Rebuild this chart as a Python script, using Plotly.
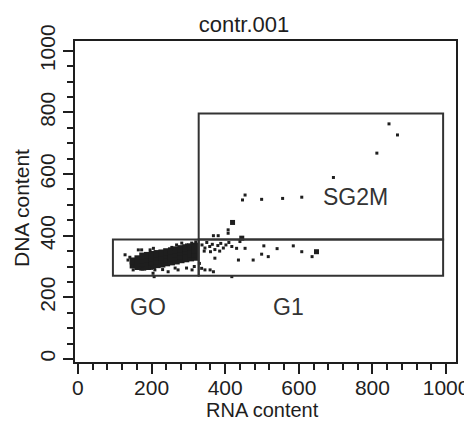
import plotly.graph_objects as go

# ---- data ----
title_text = "contr.001"
x_title = "RNA content"
y_title = "DNA content"
tick_vals = [0, 200, 400, 600, 800, 1000]
tick_text = ["0", "200", "400", "600", "800", "1000"]

# dense G0 core (events)
core_x = [150, 150,
          163, 163, 163,
          176, 176, 176, 176,
          189, 189, 189, 189,
          202, 202, 202, 202,
          215, 215, 215, 215,
          228, 228, 228, 228,
          241, 241, 241, 241,
          254, 254, 254, 254,
          267, 267, 267, 267,
          280, 280, 280, 280,
          293, 293, 293, 293,
          306, 306, 306, 306,
          318, 318, 318, 318]
core_y = [305, 318,
          300, 312, 325,
          298, 310, 322, 334,
          300, 312, 324, 336,
          303, 315, 327, 339,
          306, 318, 330, 342,
          308, 320, 332, 344,
          312, 324, 336, 348,
          315, 327, 339, 351,
          318, 330, 342, 354,
          322, 334, 346, 358,
          325, 337, 349, 361,
          328, 340, 352, 364,
          330, 342, 354, 366]

# sparse events
ev_x = [128, 136, 146, 150, 141, 164, 173, 196, 205, 268, 282, 295, 309, 290, 200, 209,
        264, 272, 295, 310, 245, 204, 207, 230, 175, 320, 316, 255,
        337, 345, 350, 358, 365, 372, 380, 388, 395, 402, 410, 418, 343, 360, 385, 372,
        336, 345, 359, 368, 330, 418, 436, 476, 431, 454, 505, 541, 585, 608, 636, 499,
        517, 440, 368, 381, 408, 408,
        845, 868, 812, 694, 608, 556, 499, 447, 454]
ev_y = [338, 321, 300, 289, 330, 354, 354, 354, 359, 370, 376, 370, 376, 365, 294, 289,
        295, 289, 295, 289, 283, 278, 267, 290, 292, 380, 300, 362,
        370, 360, 378, 365, 372, 355, 368, 375, 360, 370, 378, 365, 350, 348, 350, 327,
        294, 289, 289, 283, 310, 267, 321, 321, 359, 359, 367, 358, 367, 348, 332, 340,
        332, 381, 400, 400, 408, 419,
        763, 727, 668, 589, 525, 521, 518, 516, 532]

# larger events
big_x = [420, 648, 445]
big_y = [443, 348, 392]

# gates
gate_names = ["GO", "G1", "SG2M"]
gate_x0 = [95, 328, 328]
gate_x1 = [328, 992, 992]
gate_y0 = [270, 270, 388]
gate_y1 = [388, 388, 797]
label_x = [190, 571, 753]
label_y = [169, 169, 526]

FONT = "Liberation Sans, Arial, sans-serif"
INK = "#1e1e1e"

# page body has an 8px margin; figure coordinates are window coordinates minus 8
OFF = 8
W, H = 472 - OFF, 423 - OFF
L, T = 75 - OFF, 41 - OFF
R, B = 16, 61
PW, PH = W - L - R, H - T - B


def paper_xy(wx, wy):
    fx, fy = wx - OFF, wy - OFF
    return (fx - L) / PW, (T + PH - fy) / PH


fig = go.Figure()
fig.add_trace(go.Scatter(x=core_x, y=core_y, mode="markers",
                         marker=dict(symbol="square", size=7, color=INK, line=dict(width=0)),
                         hoverinfo="skip"))
fig.add_trace(go.Scatter(x=ev_x, y=ev_y, mode="markers",
                         marker=dict(symbol="square", size=3, color=INK, line=dict(width=0)),
                         hoverinfo="skip"))
fig.add_trace(go.Scatter(x=big_x, y=big_y, mode="markers",
                         marker=dict(symbol="square", size=5, color=INK, line=dict(width=0)),
                         hoverinfo="skip"))

for i in range(len(gate_names)):
    fig.add_shape(type="rect", xref="x", yref="y",
                  x0=gate_x0[i], x1=gate_x1[i], y0=gate_y0[i], y1=gate_y1[i],
                  line=dict(color="#333333", width=2))
    fig.add_annotation(x=label_x[i], y=label_y[i], xref="x", yref="y",
                       text=gate_names[i], showarrow=False,
                       font=dict(family=FONT, size=23, color="#333333"))

ax_, ay_ = paper_xy(262, 410)
fig.add_annotation(x=ax_, y=ay_, xref="paper", yref="paper",
                   text=x_title, showarrow=False, xanchor="center", yanchor="middle",
                   font=dict(family=FONT, size=20, color=INK))
bx_, by_ = paper_xy(22, 208)
fig.add_annotation(x=bx_, y=by_, xref="paper", yref="paper",
                   text=y_title, showarrow=False, textangle=-90,
                   xanchor="center", yanchor="middle",
                   font=dict(family=FONT, size=21, color=INK))

fig.update_layout(
    width=W, height=H,
    margin=dict(l=L, r=R, t=T, b=B, pad=0),
    paper_bgcolor="white", plot_bgcolor="white",
    showlegend=False,
    title=dict(text=title_text, x=(244 - OFF) / W, xanchor="center",
               y=1 - (24 - OFF) / H, yanchor="middle",
               xref="container", yref="container",
               font=dict(family=FONT, size=22, color=INK)),
    font=dict(family=FONT, size=21, color=INK),
)

fig.update_xaxes(range=[-8, 1027], tickvals=tick_vals, ticktext=tick_text,
                 showgrid=False, zeroline=False, showline=True, mirror=True,
                 linecolor=INK, linewidth=2, ticks="outside", ticklen=10, tickwidth=2,
                 tickcolor=INK, automargin=False, ticklabelstandoff=-4,
                 minor=dict(dtick=40, tick0=0, ticks="outside", ticklen=6, tickwidth=1.5,
                            tickcolor=INK, showgrid=False),
                 tickfont=dict(family=FONT, size=21, color=INK))
fig.update_yaxes(range=[-10, 1032], tickvals=tick_vals, ticktext=tick_text,
                 showgrid=False, zeroline=False, showline=True, mirror=True,
                 linecolor=INK, linewidth=2, ticks="outside", ticklen=10, tickwidth=2,
                 tickcolor=INK, tickangle=-90, automargin=False, ticklabelstandoff=0,
                 minor=dict(dtick=50, tick0=0, ticks="outside", ticklen=6, tickwidth=1.5,
                            tickcolor=INK, showgrid=False),
                 tickfont=dict(family=FONT, size=21, color=INK))

fig.write_html("out.html")
